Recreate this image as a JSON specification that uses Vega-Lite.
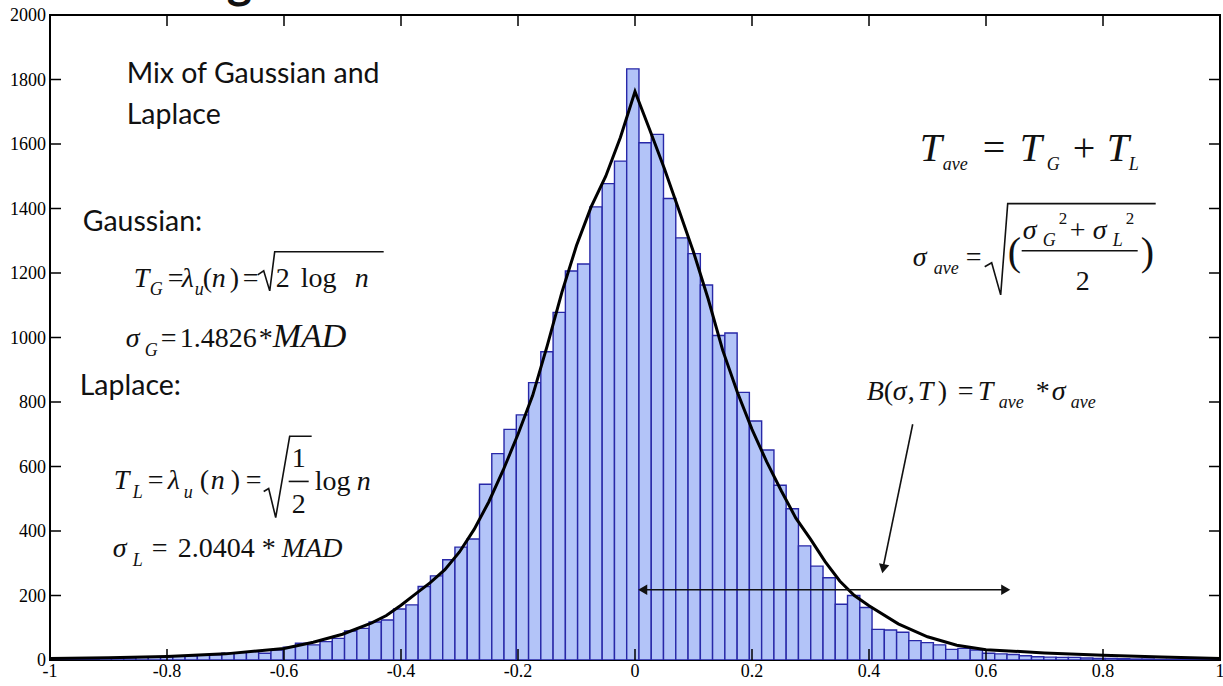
{
  "$schema": "https://vega.github.io/schema/vega-lite/v6.json",
  "width": 1170,
  "height": 645,
  "autosize": {"type": "none"},
  "padding": {"left": 50, "top": 15, "right": 3, "bottom": 26},
  "background": "white",
  "config": {"view": {"stroke": "black", "strokeWidth": 2}},
  "datasets": {
    "bars": [
      {"x": -0.9998, "x2": -0.9788, "y": 3},
      {"x": -0.9788, "x2": -0.9578, "y": 3},
      {"x": -0.9578, "x2": -0.9369, "y": 4},
      {"x": -0.9369, "x2": -0.9159, "y": 4},
      {"x": -0.9159, "x2": -0.8949, "y": 5},
      {"x": -0.8949, "x2": -0.8739, "y": 6},
      {"x": -0.8739, "x2": -0.853, "y": 7},
      {"x": -0.853, "x2": -0.832, "y": 8},
      {"x": -0.832, "x2": -0.811, "y": 9},
      {"x": -0.811, "x2": -0.7901, "y": 10},
      {"x": -0.7901, "x2": -0.7691, "y": 12},
      {"x": -0.7691, "x2": -0.7481, "y": 13},
      {"x": -0.7481, "x2": -0.7272, "y": 16},
      {"x": -0.7272, "x2": -0.7062, "y": 16},
      {"x": -0.7062, "x2": -0.6852, "y": 21},
      {"x": -0.6852, "x2": -0.6642, "y": 23},
      {"x": -0.6642, "x2": -0.6433, "y": 26},
      {"x": -0.6433, "x2": -0.6223, "y": 21},
      {"x": -0.6223, "x2": -0.6013, "y": 31},
      {"x": -0.6013, "x2": -0.5804, "y": 40},
      {"x": -0.5804, "x2": -0.5594, "y": 52},
      {"x": -0.5594, "x2": -0.5384, "y": 47},
      {"x": -0.5384, "x2": -0.5175, "y": 57},
      {"x": -0.5175, "x2": -0.4965, "y": 67},
      {"x": -0.4965, "x2": -0.4755, "y": 90},
      {"x": -0.4755, "x2": -0.4545, "y": 98},
      {"x": -0.4545, "x2": -0.4336, "y": 118},
      {"x": -0.4336, "x2": -0.4126, "y": 124},
      {"x": -0.4126, "x2": -0.3916, "y": 158},
      {"x": -0.3916, "x2": -0.3707, "y": 171},
      {"x": -0.3707, "x2": -0.3497, "y": 228},
      {"x": -0.3497, "x2": -0.3287, "y": 261},
      {"x": -0.3287, "x2": -0.3078, "y": 311},
      {"x": -0.3078, "x2": -0.2868, "y": 350},
      {"x": -0.2868, "x2": -0.2658, "y": 375},
      {"x": -0.2658, "x2": -0.2448, "y": 545},
      {"x": -0.2448, "x2": -0.2239, "y": 640},
      {"x": -0.2239, "x2": -0.2029, "y": 715},
      {"x": -0.2029, "x2": -0.1819, "y": 760},
      {"x": -0.1819, "x2": -0.161, "y": 860},
      {"x": -0.161, "x2": -0.14, "y": 956},
      {"x": -0.14, "x2": -0.119, "y": 1078},
      {"x": -0.119, "x2": -0.0981, "y": 1206},
      {"x": -0.0981, "x2": -0.0771, "y": 1228},
      {"x": -0.0771, "x2": -0.0561, "y": 1405},
      {"x": -0.0561, "x2": -0.0351, "y": 1477},
      {"x": -0.0351, "x2": -0.0142, "y": 1547},
      {"x": -0.0142, "x2": 0.0068, "y": 1833},
      {"x": 0.0068, "x2": 0.0278, "y": 1604},
      {"x": 0.0278, "x2": 0.0487, "y": 1630},
      {"x": 0.0487, "x2": 0.0697, "y": 1431},
      {"x": 0.0697, "x2": 0.0907, "y": 1309},
      {"x": 0.0907, "x2": 0.1117, "y": 1260},
      {"x": 0.1117, "x2": 0.1326, "y": 1163},
      {"x": 0.1326, "x2": 0.1536, "y": 1006},
      {"x": 0.1536, "x2": 0.1746, "y": 1014},
      {"x": 0.1746, "x2": 0.1955, "y": 830},
      {"x": 0.1955, "x2": 0.2165, "y": 741},
      {"x": 0.2165, "x2": 0.2375, "y": 651},
      {"x": 0.2375, "x2": 0.2584, "y": 542},
      {"x": 0.2584, "x2": 0.2794, "y": 469},
      {"x": 0.2794, "x2": 0.3004, "y": 354},
      {"x": 0.3004, "x2": 0.3214, "y": 291},
      {"x": 0.3214, "x2": 0.3423, "y": 255},
      {"x": 0.3423, "x2": 0.3633, "y": 173},
      {"x": 0.3633, "x2": 0.3843, "y": 200},
      {"x": 0.3843, "x2": 0.4052, "y": 163},
      {"x": 0.4052, "x2": 0.4262, "y": 95},
      {"x": 0.4262, "x2": 0.4472, "y": 93},
      {"x": 0.4472, "x2": 0.4681, "y": 86},
      {"x": 0.4681, "x2": 0.4891, "y": 60},
      {"x": 0.4891, "x2": 0.5101, "y": 54},
      {"x": 0.5101, "x2": 0.5311, "y": 47},
      {"x": 0.5311, "x2": 0.552, "y": 33},
      {"x": 0.552, "x2": 0.573, "y": 36},
      {"x": 0.573, "x2": 0.594, "y": 31},
      {"x": 0.594, "x2": 0.6149, "y": 21},
      {"x": 0.6149, "x2": 0.6359, "y": 19},
      {"x": 0.6359, "x2": 0.6569, "y": 17},
      {"x": 0.6569, "x2": 0.6778, "y": 13},
      {"x": 0.6778, "x2": 0.6988, "y": 10},
      {"x": 0.6988, "x2": 0.7198, "y": 9},
      {"x": 0.7198, "x2": 0.7408, "y": 8},
      {"x": 0.7408, "x2": 0.7617, "y": 8},
      {"x": 0.7617, "x2": 0.7827, "y": 6},
      {"x": 0.7827, "x2": 0.8037, "y": 5},
      {"x": 0.8037, "x2": 0.8246, "y": 5},
      {"x": 0.8246, "x2": 0.8456, "y": 4},
      {"x": 0.8456, "x2": 0.8666, "y": 3},
      {"x": 0.8666, "x2": 0.8875, "y": 3},
      {"x": 0.8875, "x2": 0.9085, "y": 2},
      {"x": 0.9085, "x2": 0.9295, "y": 2},
      {"x": 0.9295, "x2": 0.9505, "y": 2},
      {"x": 0.9505, "x2": 0.9714, "y": 1},
      {"x": 0.9714, "x2": 0.9924, "y": 1},
      {"x": 0.9924, "x2": 1.0134, "y": 1}
    ],
    "curve": [
      {"x": -1, "y": 5}, {"x": -0.9, "y": 7}, {"x": -0.8, "y": 11}, {"x": -0.7, "y": 19},
      {"x": -0.6, "y": 36}, {"x": -0.55, "y": 55}, {"x": -0.5, "y": 80}, {"x": -0.45, "y": 115},
      {"x": -0.425, "y": 138}, {"x": -0.4, "y": 170}, {"x": -0.375, "y": 205}, {"x": -0.35, "y": 240},
      {"x": -0.325, "y": 280}, {"x": -0.3, "y": 335}, {"x": -0.275, "y": 405}, {"x": -0.25, "y": 490},
      {"x": -0.225, "y": 590}, {"x": -0.2, "y": 700}, {"x": -0.175, "y": 820}, {"x": -0.15, "y": 975},
      {"x": -0.125, "y": 1140}, {"x": -0.1, "y": 1285}, {"x": -0.075, "y": 1405}, {"x": -0.05, "y": 1500},
      {"x": -0.025, "y": 1620}, {"x": 0, "y": 1763}, {"x": 0.025, "y": 1645}, {"x": 0.05, "y": 1525},
      {"x": 0.075, "y": 1395}, {"x": 0.1, "y": 1265}, {"x": 0.125, "y": 1120}, {"x": 0.15, "y": 960},
      {"x": 0.175, "y": 830}, {"x": 0.2, "y": 715}, {"x": 0.225, "y": 615}, {"x": 0.25, "y": 525},
      {"x": 0.275, "y": 440}, {"x": 0.3, "y": 375}, {"x": 0.325, "y": 305}, {"x": 0.35, "y": 245},
      {"x": 0.375, "y": 200}, {"x": 0.4, "y": 168}, {"x": 0.45, "y": 112}, {"x": 0.5, "y": 72},
      {"x": 0.55, "y": 46}, {"x": 0.6, "y": 32}, {"x": 0.7, "y": 22}, {"x": 0.8, "y": 15},
      {"x": 0.9, "y": 9}, {"x": 1, "y": 5}
    ],
    "tx": [{"v": -0.8}, {"v": -0.6}, {"v": -0.4}, {"v": -0.2}, {"v": 0}, {"v": 0.2}, {"v": 0.4}, {"v": 0.6}, {"v": 0.8}],
    "ty": [{"v": 200}, {"v": 400}, {"v": 600}, {"v": 800}, {"v": 1000}, {"v": 1200}, {"v": 1400}, {"v": 1600}, {"v": 1800}],
    "xl": [
      {"v": -1, "t": "-1"}, {"v": -0.8, "t": "-0.8"}, {"v": -0.6, "t": "-0.6"}, {"v": -0.4, "t": "-0.4"},
      {"v": -0.2, "t": "-0.2"}, {"v": 0, "t": "0"}, {"v": 0.2, "t": "0.2"}, {"v": 0.4, "t": "0.4"},
      {"v": 0.6, "t": "0.6"}, {"v": 0.8, "t": "0.8"}, {"v": 1, "t": "1"}
    ],
    "yl": [
      {"v": 0, "t": "0"}, {"v": 200, "t": "200"}, {"v": 400, "t": "400"}, {"v": 600, "t": "600"},
      {"v": 800, "t": "800"}, {"v": 1000, "t": "1000"}, {"v": 1200, "t": "1200"}, {"v": 1400, "t": "1400"},
      {"v": 1600, "t": "1600"}, {"v": 1800, "t": "1800"}, {"v": 2000, "t": "2000"}
    ],
    "lines": [
      {"id": "R1", "o": 1, "x": -0.645, "y": 1194.4},
      {"id": "R1", "o": 2, "x": -0.6347, "y": 1206.8},
      {"id": "R1", "o": 3, "x": -0.6244, "y": 1144.6},
      {"id": "R1", "o": 4, "x": -0.6159, "y": 1265.9},
      {"id": "R1", "o": 5, "x": -0.4296, "y": 1265.9},
      {"id": "R2", "o": 1, "x": -0.6347, "y": 522.5},
      {"id": "R2", "o": 2, "x": -0.6262, "y": 531.9},
      {"id": "R2", "o": 3, "x": -0.6142, "y": 441.7},
      {"id": "R2", "o": 4, "x": -0.5903, "y": 693.6},
      {"id": "R2", "o": 5, "x": -0.5527, "y": 693.6},
      {"id": "F1", "o": 1, "x": -0.5920, "y": 553.7},
      {"id": "F1", "o": 2, "x": -0.5578, "y": 553.7},
      {"id": "R3", "o": 1, "x": 0.5978, "y": 1219.3},
      {"id": "R3", "o": 2, "x": 0.6097, "y": 1231.7},
      {"id": "R3", "o": 3, "x": 0.6251, "y": 1132.2},
      {"id": "R3", "o": 4, "x": 0.6371, "y": 1415.2},
      {"id": "R3", "o": 5, "x": 0.8901, "y": 1415.2},
      {"id": "F2", "o": 1, "x": 0.661, "y": 1269.1},
      {"id": "F2", "o": 2, "x": 0.8593, "y": 1269.1},
      {"id": "AH", "o": 1, "x": 0.008, "y": 217.7},
      {"id": "AH", "o": 2, "x": 0.6319, "y": 217.7},
      {"id": "AD", "o": 1, "x": 0.4747, "y": 730.9},
      {"id": "AD", "o": 2, "x": 0.4233, "y": 279.9}
    ],
    "heads": [
      {"x": 0.0132, "y": 217.7, "dir": "l"},
      {"x": 0.6337, "y": 217.7, "dir": "r"}
    ],
    "dhead": [{"x": 0.4243, "y": 283.0}],
    "sans": [
      {"x": -0.8689, "y": 1788.5, "t": "Mix of Gaussian and"},
      {"x": -0.8689, "y": 1661.0, "t": "Laplace"},
      {"x": -0.9441, "y": 1331.3, "t": "Gaussian:"},
      {"x": -0.9492, "y": 821.2, "t": "Laplace:"}
    ],
    "gfrag": [{"x": -0.6979, "y": 2052.9, "t": "g"}],
    "it": [
      {"x": -0.8569, "y": 1157.1, "t": "T"},
      {"x": -0.7749, "y": 1157.1, "t": "λ"},
      {"x": -0.7236, "y": 1157.1, "t": "n"},
      {"x": -0.4792, "y": 1157.1, "t": "n"},
      {"x": -0.8706, "y": 970.5, "t": "σ"},
      {"x": -0.8911, "y": 528.8, "t": "T"},
      {"x": -0.7988, "y": 528.8, "t": "λ"},
      {"x": -0.7253, "y": 528.8, "t": "n"},
      {"x": -0.4757, "y": 525.7, "t": "n"},
      {"x": -0.8928, "y": 320.4, "t": "σ"},
      {"x": -0.6039, "y": 320.4, "t": "MAD"},
      {"x": 0.4747, "y": 1222.4, "t": "σ"},
      {"x": 0.6627, "y": 1306.4, "t": "σ"},
      {"x": 0.7824, "y": 1306.4, "t": "σ"},
      {"x": 0.3961, "y": 805.6, "t": "B"},
      {"x": 0.4405, "y": 805.6, "t": "σ"},
      {"x": 0.4832, "y": 805.6, "t": "T"},
      {"x": 0.5858, "y": 805.6, "t": "T"},
      {"x": 0.7123, "y": 805.6, "t": "σ"}
    ],
    "itMid": [
      {"x": -0.6193, "y": 970.5, "t": "MAD"}
    ],
    "rm": [
      {"x": -0.7988, "y": 1157.1, "t": "="},
      {"x": -0.7390, "y": 1157.1, "t": "("},
      {"x": -0.6928, "y": 1157.1, "t": ")"},
      {"x": -0.6706, "y": 1157.1, "t": "="},
      {"x": -0.6142, "y": 1157.1, "t": "2"},
      {"x": -0.5715, "y": 1157.1, "t": "log"},
      {"x": -0.8108, "y": 970.5, "t": "="},
      {"x": -0.7783, "y": 970.5, "t": "1.4826"},
      {"x": -0.6433, "y": 970.5, "t": "*"},
      {"x": -0.833, "y": 528.8, "t": "="},
      {"x": -0.7441, "y": 528.8, "t": "("},
      {"x": -0.6911, "y": 528.8, "t": ")"},
      {"x": -0.6655, "y": 528.8, "t": "="},
      {"x": -0.5868, "y": 597.2, "t": "1"},
      {"x": -0.5868, "y": 457.2, "t": "2"},
      {"x": -0.5475, "y": 525.7, "t": "log"},
      {"x": -0.8262, "y": 320.4, "t": "="},
      {"x": -0.7818, "y": 320.4, "t": "2.0404"},
      {"x": -0.6381, "y": 320.4, "t": "*"},
      {"x": 0.5654, "y": 1222.4, "t": "="},
      {"x": 0.7431, "y": 1306.4, "t": "+"},
      {"x": 0.7533, "y": 1147.7, "t": "2"},
      {"x": 0.4251, "y": 805.6, "t": "("},
      {"x": 0.4662, "y": 805.6, "t": ","},
      {"x": 0.5174, "y": 805.6, "t": ")"},
      {"x": 0.5516, "y": 805.6, "t": "="},
      {"x": 0.685, "y": 805.6, "t": "*"}
    ],
    "sub": [
      {"x": -0.8296, "y": 1132.2, "t": "G"},
      {"x": -0.7527, "y": 1132.2, "t": "u"},
      {"x": -0.8381, "y": 942.5, "t": "G"},
      {"x": -0.8586, "y": 500.8, "t": "L"},
      {"x": -0.7715, "y": 500.8, "t": "u"},
      {"x": -0.8586, "y": 292.4, "t": "L"},
      {"x": 0.526, "y": 1517.9, "t": "ave"},
      {"x": 0.7038, "y": 1517.9, "t": "G"},
      {"x": 0.8439, "y": 1517.9, "t": "L"},
      {"x": 0.5106, "y": 1197.5, "t": "ave"},
      {"x": 0.6969, "y": 1284.6, "t": "G"},
      {"x": 0.8166, "y": 1284.6, "t": "L"},
      {"x": 0.6217, "y": 780.7, "t": "ave"},
      {"x": 0.7448, "y": 780.7, "t": "ave"}
    ],
    "sup": [
      {"x": 0.7243, "y": 1353.0, "t": "2"},
      {"x": 0.8388, "y": 1353.0, "t": "2"}
    ],
    "itBig": [
      {"x": 0.4867, "y": 1545.9, "t": "T"},
      {"x": 0.6576, "y": 1545.9, "t": "T"},
      {"x": 0.8063, "y": 1545.9, "t": "T"}
    ],
    "rmBig": [
      {"x": 0.5944, "y": 1545.9, "t": "="},
      {"x": 0.7482, "y": 1545.9, "t": "+"},
      {"x": 0.6371, "y": 1225.5, "t": "("},
      {"x": 0.8644, "y": 1225.5, "t": ")"}
    ]
  },
  "layer": [
    {
      "data": {"name": "bars"},
      "mark": {"type": "bar", "fill": "#b3c4f8", "stroke": "#2828a8", "strokeWidth": 1.4, "clip": true},
      "encoding": {
        "x": {"field": "x", "type": "quantitative", "scale": {"domain": [-1, 1], "nice": false, "zero": false}, "axis": null},
        "x2": {"field": "x2"},
        "y": {"field": "y", "type": "quantitative", "scale": {"domain": [0, 2000], "nice": false, "zero": false}, "axis": null},
        "y2": {"datum": 0}
      }
    },
    {
      "data": {"name": "curve"},
      "mark": {"type": "line", "color": "black", "strokeWidth": 3},
      "encoding": {
        "x": {"field": "x", "type": "quantitative", "axis": null},
        "y": {"field": "y", "type": "quantitative", "axis": null},
        "order": {"field": "x", "type": "quantitative"}
      }
    },
    {
      "data": {"name": "tx"},
      "mark": {"type": "tick", "orient": "vertical", "size": 11, "thickness": 1.5, "yOffset": -5.5, "color": "black", "opacity": 1},
      "encoding": {"x": {"field": "v", "type": "quantitative", "axis": null}, "y": {"datum": 0, "type": "quantitative", "axis": null}}
    },
    {
      "data": {"name": "tx"},
      "mark": {"type": "tick", "orient": "vertical", "size": 11, "thickness": 1.5, "yOffset": 5.5, "color": "black", "opacity": 1},
      "encoding": {"x": {"field": "v", "type": "quantitative", "axis": null}, "y": {"datum": 2000, "type": "quantitative", "axis": null}}
    },
    {
      "data": {"name": "ty"},
      "mark": {"type": "tick", "orient": "horizontal", "size": 11, "thickness": 1.5, "xOffset": 5.5, "color": "black", "opacity": 1},
      "encoding": {"y": {"field": "v", "type": "quantitative", "axis": null}, "x": {"datum": -1, "type": "quantitative", "axis": null}}
    },
    {
      "data": {"name": "ty"},
      "mark": {"type": "tick", "orient": "horizontal", "size": 11, "thickness": 1.5, "xOffset": -5.5, "color": "black", "opacity": 1},
      "encoding": {"y": {"field": "v", "type": "quantitative", "axis": null}, "x": {"datum": 1, "type": "quantitative", "axis": null}}
    },
    {
      "data": {"name": "xl"},
      "mark": {"type": "text", "font": "Liberation Serif", "fontSize": 18, "align": "center", "baseline": "top", "dy": 3, "color": "black"},
      "encoding": {"x": {"field": "v", "type": "quantitative", "axis": null}, "y": {"datum": 0, "type": "quantitative", "axis": null}, "text": {"field": "t"}}
    },
    {
      "data": {"name": "yl"},
      "mark": {"type": "text", "font": "Liberation Serif", "fontSize": 18, "align": "right", "baseline": "middle", "dx": -4, "dy": 1, "color": "black"},
      "encoding": {"y": {"field": "v", "type": "quantitative", "axis": null}, "x": {"datum": -1, "type": "quantitative", "axis": null}, "text": {"field": "t"}}
    },
    {
      "data": {"name": "lines"},
      "mark": {"type": "line", "color": "#111111", "strokeWidth": 1.6},
      "encoding": {
        "x": {"field": "x", "type": "quantitative", "axis": null},
        "y": {"field": "y", "type": "quantitative", "axis": null},
        "detail": {"field": "id"},
        "order": {"field": "o", "type": "quantitative"}
      }
    },
    {
      "data": {"name": "heads"},
      "mark": {"type": "point", "filled": true, "color": "#111111", "size": 110, "opacity": 1},
      "encoding": {
        "x": {"field": "x", "type": "quantitative", "axis": null},
        "y": {"field": "y", "type": "quantitative", "axis": null},
        "shape": {"field": "dir", "type": "nominal", "scale": {"domain": ["l", "r"], "range": ["triangle-left", "triangle-right"]}, "legend": null}
      }
    },
    {
      "data": {"name": "dhead"},
      "mark": {"type": "point", "filled": true, "color": "#111111", "size": 110, "opacity": 1, "shape": "triangle-down", "angle": 11.7},
      "encoding": {
        "x": {"field": "x", "type": "quantitative", "axis": null},
        "y": {"field": "y", "type": "quantitative", "axis": null}
      }
    },
    {
      "data": {"name": "sans"},
      "mark": {"type": "text", "font": "Lato", "fontSize": 28.5, "align": "left", "baseline": "alphabetic", "color": "#111111"},
      "encoding": {
        "x": {"field": "x", "type": "quantitative", "axis": null},
        "y": {"field": "y", "type": "quantitative", "axis": null},
        "text": {"field": "t"}
      }
    },
    {
      "data": {"name": "gfrag"},
      "mark": {"type": "text", "font": "Lato", "fontWeight": "bold", "fontSize": 48, "align": "left", "baseline": "alphabetic", "color": "#111111"},
      "encoding": {
        "x": {"field": "x", "type": "quantitative", "axis": null},
        "y": {"field": "y", "type": "quantitative", "axis": null},
        "text": {"field": "t"}
      }
    },
    {
      "data": {"name": "it"},
      "mark": {"type": "text", "font": "Liberation Serif", "fontStyle": "italic", "fontSize": 28, "align": "left", "baseline": "alphabetic", "color": "#111111"},
      "encoding": {
        "x": {"field": "x", "type": "quantitative", "axis": null},
        "y": {"field": "y", "type": "quantitative", "axis": null},
        "text": {"field": "t"}
      }
    },
    {
      "data": {"name": "itMid"},
      "mark": {"type": "text", "font": "Liberation Serif", "fontStyle": "italic", "fontSize": 34, "align": "left", "baseline": "alphabetic", "color": "#111111"},
      "encoding": {
        "x": {"field": "x", "type": "quantitative", "axis": null},
        "y": {"field": "y", "type": "quantitative", "axis": null},
        "text": {"field": "t"}
      }
    },
    {
      "data": {"name": "rm"},
      "mark": {"type": "text", "font": "Liberation Serif", "fontSize": 28, "align": "left", "baseline": "alphabetic", "color": "#111111"},
      "encoding": {
        "x": {"field": "x", "type": "quantitative", "axis": null},
        "y": {"field": "y", "type": "quantitative", "axis": null},
        "text": {"field": "t"}
      }
    },
    {
      "data": {"name": "sub"},
      "mark": {"type": "text", "font": "Liberation Serif", "fontStyle": "italic", "fontSize": 18, "align": "left", "baseline": "alphabetic", "color": "#111111"},
      "encoding": {
        "x": {"field": "x", "type": "quantitative", "axis": null},
        "y": {"field": "y", "type": "quantitative", "axis": null},
        "text": {"field": "t"}
      }
    },
    {
      "data": {"name": "sup"},
      "mark": {"type": "text", "font": "Liberation Serif", "fontSize": 17, "align": "left", "baseline": "alphabetic", "color": "#111111"},
      "encoding": {
        "x": {"field": "x", "type": "quantitative", "axis": null},
        "y": {"field": "y", "type": "quantitative", "axis": null},
        "text": {"field": "t"}
      }
    },
    {
      "data": {"name": "itBig"},
      "mark": {"type": "text", "font": "Liberation Serif", "fontStyle": "italic", "fontSize": 40, "align": "left", "baseline": "alphabetic", "color": "#111111"},
      "encoding": {
        "x": {"field": "x", "type": "quantitative", "axis": null},
        "y": {"field": "y", "type": "quantitative", "axis": null},
        "text": {"field": "t"}
      }
    },
    {
      "data": {"name": "rmBig"},
      "mark": {"type": "text", "font": "Liberation Serif", "fontSize": 40, "align": "left", "baseline": "alphabetic", "color": "#111111"},
      "encoding": {
        "x": {"field": "x", "type": "quantitative", "axis": null},
        "y": {"field": "y", "type": "quantitative", "axis": null},
        "text": {"field": "t"}
      }
    }
  ]
}
